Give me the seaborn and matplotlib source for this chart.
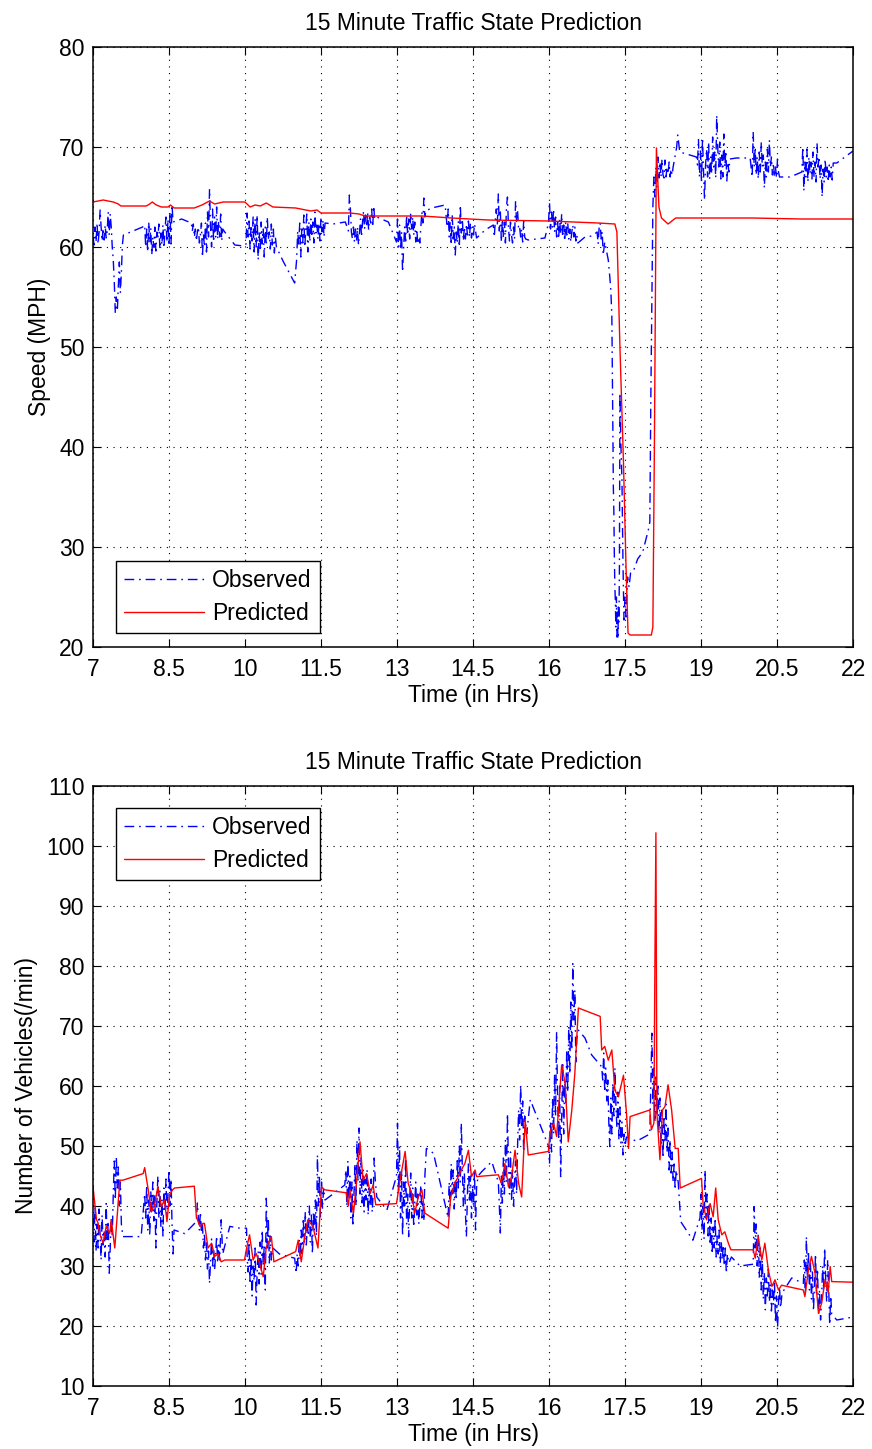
import numpy as np
import pandas as pd
import matplotlib
matplotlib.use("Agg")
import matplotlib.pyplot as plt
import seaborn as sns

# ---------------- data ----------------
obs_speed_t = [7.00,7.02,7.04,7.06,7.08,7.10,7.12,7.14,7.16,7.18,7.20,7.22,7.24,7.26,7.28,7.30,7.32,7.34,7.36,7.38,
 7.40,7.42,7.44,7.46,7.48,7.50,7.52,7.54,7.56,7.58,7.60,7.79,7.98,8.02,8.04,8.06,8.08,8.10,8.12,8.14,
 8.16,8.18,8.20,8.22,8.24,8.26,8.28,8.30,8.32,8.34,8.36,8.38,8.40,8.42,8.44,8.46,8.48,8.50,8.52,8.54,
 8.56,8.58,8.75,8.94,8.96,8.98,9.00,9.02,9.04,9.06,9.08,9.10,9.12,9.14,9.16,9.18,9.20,9.22,9.24,9.26,
 9.28,9.30,9.32,9.34,9.36,9.38,9.40,9.42,9.44,9.46,9.48,9.50,9.52,9.54,9.56,9.60,9.80,9.98,10.02,10.04,
 10.06,10.08,10.10,10.12,10.14,10.16,10.18,10.20,10.22,10.24,10.26,10.28,10.30,10.32,10.34,10.36,10.38,10.40,10.42,10.44,
 10.46,10.48,10.50,10.52,10.54,10.56,10.58,10.60,10.62,10.75,10.98,11.02,11.04,11.06,11.08,11.10,11.12,11.14,11.16,11.18,
 11.20,11.22,11.24,11.26,11.28,11.30,11.32,11.34,11.36,11.38,11.40,11.42,11.44,11.46,11.48,11.50,11.52,11.54,11.56,11.58,
 11.74,11.98,12.04,12.06,12.08,12.10,12.12,12.14,12.16,12.18,12.20,12.22,12.24,12.26,12.28,12.30,12.32,12.34,12.36,12.38,
 12.40,12.42,12.44,12.46,12.48,12.50,12.52,12.54,12.56,12.60,12.83,12.99,13.01,13.03,13.05,13.07,13.09,13.11,13.13,13.15,
 13.17,13.19,13.21,13.23,13.25,13.27,13.29,13.31,13.33,13.35,13.37,13.39,13.41,13.43,13.45,13.47,13.49,13.51,13.53,13.55,
 13.57,13.68,13.95,13.99,14.01,14.03,14.05,14.07,14.09,14.11,14.13,14.15,14.17,14.19,14.21,14.23,14.25,14.27,14.29,14.31,
 14.33,14.35,14.37,14.39,14.41,14.43,14.45,14.47,14.49,14.51,14.53,14.57,14.74,14.90,14.92,14.94,14.96,14.98,15.00,15.02,
 15.04,15.06,15.08,15.10,15.12,15.14,15.16,15.18,15.20,15.22,15.24,15.26,15.28,15.30,15.32,15.34,15.36,15.38,15.40,15.42,
 15.44,15.46,15.48,15.50,15.52,15.54,15.59,15.92,15.99,16.01,16.03,16.05,16.07,16.09,16.11,16.13,16.15,16.17,16.19,16.21,
 16.23,16.25,16.27,16.29,16.31,16.33,16.35,16.37,16.39,16.41,16.43,16.45,16.47,16.49,16.51,16.53,16.55,16.57,16.71,16.85,
 16.95,16.97,16.99,17.01,17.03,17.05,17.07,17.10,17.14,17.17,17.20,17.22,17.24,17.25,17.26,17.27,17.28,17.29,17.30,17.31,
 17.32,17.33,17.34,17.35,17.36,17.37,17.38,17.39,17.40,17.42,17.44,17.46,17.48,17.50,17.52,17.55,17.58,17.61,17.66,17.75,
 17.85,17.96,17.99,18.01,18.03,18.05,18.07,18.09,18.11,18.13,18.15,18.17,18.19,18.21,18.23,18.25,18.27,18.29,18.31,18.33,
 18.35,18.37,18.39,18.41,18.43,18.45,18.52,18.54,18.56,18.58,18.91,18.93,18.95,18.97,18.99,19.01,19.03,19.05,19.07,19.09,
 19.11,19.13,19.15,19.17,19.19,19.21,19.23,19.25,19.27,19.29,19.31,19.33,19.35,19.37,19.39,19.41,19.43,19.45,19.47,19.49,
 19.51,19.53,19.55,19.57,19.70,19.97,20.01,20.03,20.05,20.07,20.09,20.11,20.13,20.15,20.17,20.19,20.21,20.23,20.25,20.27,
 20.29,20.31,20.33,20.35,20.37,20.39,20.41,20.43,20.45,20.47,20.49,20.51,20.53,20.55,20.76,20.99,21.01,21.03,21.05,21.07,
 21.09,21.11,21.13,21.15,21.17,21.19,21.21,21.23,21.25,21.27,21.29,21.31,21.33,21.35,21.37,21.39,21.41,21.43,21.45,21.47,
 21.49,21.51,21.53,21.55,21.57,21.59,21.61,21.68,21.84,22.00]
obs_speed_v = [61.0,60.2,62.0,60.5,62.4,60.3,61.5,63.7,62.0,60.6,61.9,60.7,62.2,60.9,61.6,63.5,61.2,63.3,62.0,60.0,
 58.7,56.5,53.4,55.0,53.6,56.0,58.5,55.4,57.5,60.2,61.2,61.6,62.0,62.2,60.0,61.8,59.5,62.5,60.4,61.9,
 59.2,61.0,60.0,62.0,59.6,61.5,60.8,62.3,59.8,61.4,60.2,62.2,59.9,61.7,63.0,60.5,62.8,60.1,63.5,60.3,
 64.2,62.5,62.8,62.4,61.6,62.3,61.0,61.8,60.6,61.5,62.0,60.4,61.2,62.4,59.0,61.3,60.0,62.4,59.5,63.5,
 61.0,65.8,62.0,60.0,63.8,60.5,63.0,61.0,64.0,60.8,62.6,61.0,63.3,60.6,61.8,61.5,60.2,60.1,60.3,63.4,
 61.0,62.6,59.8,62.2,60.6,63.0,59.5,62.8,60.0,63.2,58.7,61.5,59.6,62.5,60.3,61.8,59.0,62.0,60.2,63.0,
 60.8,61.5,59.8,62.3,60.2,61.8,59.4,61.0,60.0,58.6,56.4,58.8,61.6,60.3,62.4,59.0,61.8,60.4,63.2,60.0,
 61.8,63.3,59.5,62.5,60.5,62.8,61.0,62.5,60.4,63.5,61.4,62.2,60.8,62.4,60.6,63.0,61.5,62.7,61.0,62.4,
 62.3,62.5,61.6,65.2,63.8,61.5,60.8,62.0,60.5,61.8,60.6,62.0,60.2,61.5,62.8,61.0,62.5,63.6,61.8,63.2,
 62.0,63.5,61.7,63.0,62.4,63.8,62.0,64.1,62.8,63.0,62.5,60.5,62.8,60.0,62.2,59.8,61.5,57.5,59.8,62.0,
 60.6,63.2,61.2,62.8,60.8,63.4,61.8,63.0,61.2,62.5,60.5,61.8,60.3,61.0,60.4,62.0,63.5,62.4,64.9,63.0,
 63.6,63.9,64.2,62.0,63.8,61.0,62.5,60.2,63.2,60.8,62.0,59.2,61.5,60.4,62.6,60.0,64.2,61.4,62.8,60.6,
 62.0,60.8,62.3,61.2,62.6,61.0,62.4,60.9,62.0,61.2,62.3,60.9,61.7,62.2,61.0,62.6,63.8,62.2,65.3,61.6,
 63.5,60.5,62.8,61.0,62.5,60.4,64.0,65.0,62.0,60.6,62.5,61.2,60.4,62.0,60.8,64.6,62.5,63.6,61.8,62.0,
 61.0,61.8,60.5,62.6,61.0,60.8,60.7,60.9,62.4,64.5,61.8,63.5,62.0,63.8,61.5,63.0,61.0,62.5,60.8,62.8,
 61.3,63.3,61.0,62.2,60.6,62.5,61.2,62.4,60.8,61.8,60.5,61.5,62.2,61.0,62.0,60.6,61.2,60.4,61.0,61.1,
 61.5,60.3,62.0,62.4,60.8,61.5,59.2,60.5,59.5,58.7,57.0,55.7,53.2,48.0,42.0,36.0,33.5,29.0,26.0,24.5,
 22.0,25.0,21.0,23.5,20.8,24.0,22.5,28.0,45.4,40.0,36.7,28.4,22.7,25.0,23.0,27.0,26.0,27.4,27.5,28.8,
 29.5,31.7,32.5,45.0,55.0,64.0,67.0,65.0,68.0,66.0,69.0,66.9,68.5,67.0,68.8,67.2,66.9,68.7,67.0,68.0,
 67.3,68.5,67.0,67.8,67.2,68.0,70.0,71.2,70.4,69.5,69.0,68.2,70.8,67.0,69.6,66.5,70.9,67.5,64.7,68.2,
 69.8,67.0,70.5,66.8,69.0,67.3,71.0,68.0,69.5,66.9,73.2,70.0,68.0,70.5,66.8,69.2,67.0,71.3,68.0,69.6,
 66.6,68.5,67.5,68.8,68.9,68.9,67.0,71.5,68.0,70.0,67.2,69.0,66.8,69.5,67.5,70.5,68.0,69.2,65.9,68.5,
 67.0,69.8,67.5,70.7,68.0,69.0,67.2,68.4,67.0,68.0,66.9,68.8,67.5,67.0,67.0,67.5,70.0,65.6,68.5,67.0,
 69.8,66.5,69.0,67.3,68.5,66.8,69.5,67.0,68.5,66.5,70.4,68.0,69.0,66.8,68.2,65.0,67.8,66.5,68.8,67.0,
 68.0,66.5,68.2,67.0,68.0,66.7,68.4,68.4,69.0,69.6]

pred_speed_t = [7.00,7.10,7.20,7.30,7.40,7.50,7.55,8.05,8.12,8.17,8.25,8.35,8.48,8.53,8.60,9.00,9.15,9.30,9.40,9.57,
 10.00,10.10,10.20,10.30,10.42,10.55,11.00,11.30,11.42,11.50,12.07,12.25,12.37,13.50,14.08,14.80,16.00,16.97,17.30,17.34,
 17.40,17.47,17.52,17.56,17.60,18.02,18.05,18.08,18.12,18.17,18.22,18.35,18.50,19.00,20.00,21.00,22.00]
pred_speed_v = [64.5,64.6,64.7,64.6,64.5,64.3,64.1,64.1,64.3,64.5,64.2,64.0,64.0,64.2,63.9,63.9,64.2,64.6,64.3,64.5,
 64.5,64.0,64.2,64.1,64.4,64.0,63.9,63.6,63.7,63.4,63.4,63.3,63.1,63.1,62.9,62.7,62.6,62.4,62.3,61.5,
 50.0,38.4,28.0,21.4,21.2,21.2,22.0,40.0,69.9,64.0,62.9,62.3,62.9,62.9,62.9,62.8,62.8]

obs_flow_t = [7.00,7.02,7.04,7.06,7.08,7.10,7.12,7.14,7.16,7.18,7.20,7.22,7.24,7.26,7.28,7.30,7.32,7.34,7.36,7.38,
 7.40,7.42,7.44,7.46,7.48,7.50,7.52,7.54,7.56,7.59,7.76,7.95,8.02,8.04,8.06,8.08,8.10,8.12,8.14,8.16,
 8.18,8.20,8.22,8.24,8.26,8.28,8.30,8.32,8.34,8.36,8.38,8.40,8.42,8.44,8.46,8.48,8.50,8.52,8.54,8.56,
 8.58,8.60,8.81,9.04,9.06,9.08,9.10,9.12,9.14,9.16,9.18,9.20,9.22,9.24,9.26,9.28,9.30,9.32,9.34,9.36,
 9.38,9.40,9.42,9.44,9.46,9.48,9.50,9.53,9.56,9.70,9.90,10.03,10.04,10.06,10.08,10.10,10.12,10.14,10.16,10.18,
 10.20,10.22,10.24,10.26,10.28,10.30,10.32,10.34,10.36,10.38,10.40,10.42,10.44,10.46,10.48,10.50,10.52,10.55,10.68,10.98,
 11.01,11.03,11.05,11.07,11.09,11.11,11.13,11.15,11.17,11.19,11.21,11.23,11.25,11.27,11.29,11.31,11.33,11.35,11.37,11.39,
 11.41,11.43,11.45,11.47,11.49,11.51,11.53,11.55,11.58,11.97,11.99,12.01,12.03,12.05,12.07,12.09,12.11,12.13,12.15,12.17,
 12.19,12.21,12.23,12.25,12.27,12.29,12.31,12.33,12.35,12.37,12.39,12.41,12.43,12.45,12.47,12.49,12.51,12.53,12.55,12.57,
 12.60,12.80,12.99,13.01,13.03,13.05,13.07,13.09,13.11,13.13,13.15,13.17,13.19,13.21,13.23,13.25,13.27,13.29,13.31,13.33,
 13.35,13.37,13.39,13.41,13.43,13.45,13.47,13.49,13.51,13.53,13.55,13.58,13.72,14.01,14.03,14.05,14.07,14.09,14.11,14.13,
 14.15,14.17,14.19,14.21,14.23,14.25,14.27,14.29,14.31,14.33,14.35,14.37,14.39,14.41,14.43,14.45,14.47,14.49,14.51,14.53,
 14.55,14.57,14.60,14.67,14.87,15.00,15.02,15.04,15.06,15.08,15.10,15.12,15.14,15.16,15.18,15.20,15.22,15.24,15.26,15.28,
 15.30,15.32,15.34,15.36,15.38,15.40,15.42,15.44,15.46,15.48,15.50,15.52,15.56,15.63,15.99,16.01,16.03,16.05,16.07,16.09,
 16.11,16.13,16.15,16.17,16.19,16.21,16.23,16.25,16.27,16.29,16.31,16.33,16.35,16.37,16.39,16.41,16.43,16.45,16.47,16.49,
 16.51,16.53,16.55,16.58,16.71,16.84,17.04,17.06,17.08,17.10,17.12,17.14,17.16,17.18,17.20,17.22,17.24,17.26,17.28,17.30,
 17.32,17.34,17.36,17.38,17.40,17.42,17.44,17.46,17.48,17.50,17.53,17.73,17.99,18.01,18.03,18.05,18.07,18.09,18.11,18.13,
 18.15,18.17,18.19,18.21,18.23,18.25,18.27,18.29,18.31,18.33,18.35,18.37,18.39,18.41,18.43,18.45,18.47,18.49,18.51,18.55,
 18.60,18.84,18.98,19.00,19.02,19.04,19.06,19.08,19.10,19.12,19.14,19.16,19.18,19.20,19.22,19.24,19.26,19.28,19.30,19.32,
 19.34,19.36,19.38,19.40,19.42,19.44,19.46,19.48,19.50,19.52,19.55,19.60,19.77,20.03,20.05,20.07,20.09,20.11,20.13,20.15,
 20.17,20.19,20.21,20.23,20.25,20.27,20.29,20.31,20.33,20.35,20.37,20.39,20.41,20.43,20.45,20.47,20.49,20.51,20.53,20.55,
 20.57,20.60,20.79,21.02,21.04,21.06,21.08,21.10,21.12,21.14,21.16,21.18,21.20,21.22,21.24,21.26,21.28,21.30,21.32,21.34,
 21.36,21.38,21.40,21.42,21.44,21.46,21.48,21.50,21.52,21.54,21.56,21.58,21.68,21.94]
obs_flow_v = [38.0,34.0,40.0,32.5,37.0,33.0,39.5,35.0,31.0,38.5,33.5,36.0,31.5,40.4,34.0,37.5,28.8,33.0,38.0,35.0,
 42.0,47.5,41.0,48.2,43.0,46.5,40.0,44.0,37.0,34.9,34.9,34.9,42.0,38.0,43.5,36.0,41.0,35.0,42.5,39.0,
 44.0,37.5,42.0,33.0,40.5,45.0,38.0,42.5,36.5,41.0,35.0,43.0,39.0,44.5,38.0,42.0,46.0,40.0,44.5,37.0,
 32.0,36.0,35.4,37.4,40.5,38.0,36.0,39.0,35.5,37.0,33.0,35.5,31.0,34.0,29.5,32.5,27.1,31.0,34.5,30.0,
 33.0,29.3,32.0,35.0,30.5,33.5,31.0,37.7,32.0,36.6,36.3,36.3,32.0,29.0,34.0,27.0,31.5,25.0,30.0,27.5,
 33.0,23.5,29.0,32.5,27.0,34.0,28.5,36.0,30.0,33.5,26.0,41.3,33.0,38.0,30.5,35.0,31.0,33.0,32.0,31.3,
 28.8,32.0,30.0,34.5,31.0,36.0,32.0,38.0,34.0,39.0,33.5,37.0,35.0,40.0,34.0,38.5,32.0,39.0,36.0,41.0,
 35.0,48.5,40.0,45.0,38.0,44.0,39.5,43.0,41.0,43.5,46.0,40.0,47.5,41.0,45.0,38.0,44.0,36.6,42.0,47.0,
 40.0,51.0,44.0,53.0,42.0,48.0,40.5,46.0,39.0,44.5,41.0,46.0,38.5,43.0,40.0,44.5,39.0,42.0,48.0,44.5,
 41.5,39.3,45.0,53.8,42.0,50.0,38.0,46.0,35.0,44.0,40.0,48.0,37.0,42.0,34.9,41.0,45.5,38.0,43.0,36.5,
 40.5,44.0,38.5,42.0,37.0,40.0,43.5,38.0,41.0,37.5,45.0,49.6,48.8,38.0,44.0,40.0,47.0,42.0,46.0,39.5,
 44.5,41.0,48.0,43.0,50.0,44.0,53.8,46.0,40.0,45.5,39.0,34.9,42.0,47.0,41.0,45.0,38.0,43.5,40.0,46.0,
 36.0,43.0,45.0,45.7,47.4,44.0,40.0,35.5,45.0,40.5,48.0,42.0,51.0,44.0,55.4,47.0,42.0,49.0,41.0,46.0,
 40.0,44.0,47.5,42.0,50.0,56.0,51.0,60.2,53.0,57.5,49.0,55.0,52.0,57.7,50.0,47.0,54.0,49.0,58.0,52.0,
 62.0,55.0,69.0,58.0,51.0,60.0,44.9,55.0,64.0,52.0,61.0,57.0,66.0,59.0,70.0,62.0,74.0,66.0,80.4,71.0,
 76.0,64.0,68.0,69.3,68.0,65.2,63.2,61.0,65.5,59.0,63.0,57.5,61.0,54.0,49.9,58.0,52.0,60.5,55.0,63.0,
 57.0,53.0,59.0,51.0,56.5,50.5,54.0,48.5,52.0,50.0,51.5,50.8,52.0,60.0,68.8,57.0,63.0,54.0,61.5,55.0,
 60.0,52.0,58.0,50.0,56.0,48.0,55.0,50.5,57.0,49.0,53.0,46.0,51.0,45.5,49.0,44.0,47.0,42.7,46.0,44.0,
 37.4,34.3,38.0,42.0,36.0,40.0,34.5,46.0,38.0,42.0,35.0,40.5,33.5,38.0,32.0,36.5,33.0,38.0,31.5,35.0,
 32.0,36.0,30.5,34.0,31.0,33.5,30.0,33.0,28.8,32.0,30.5,31.5,30.0,30.3,39.9,33.0,37.0,30.0,35.5,28.0,
 33.0,26.0,31.0,24.5,29.0,22.7,28.0,25.0,29.5,24.0,27.0,22.5,26.0,23.5,27.5,20.5,25.0,19.3,24.0,26.5,
 23.0,25.5,28.0,27.1,31.0,25.0,34.9,28.0,32.5,26.0,30.5,24.5,29.0,22.5,27.0,32.0,25.5,29.5,22.0,26.0,
 21.0,24.5,30.0,26.0,33.0,28.0,24.0,31.0,26.5,20.2,25.0,22.0,21.0,21.4]

pred_flow_t = [7.00,7.07,7.10,7.13,7.20,7.26,7.33,7.36,7.43,7.53,7.59,7.99,8.02,8.09,8.15,8.22,8.28,8.35,8.41,8.46,
 8.51,8.57,8.61,9.00,9.04,9.11,9.17,9.20,9.27,9.34,9.40,9.47,9.53,9.60,9.99,10.03,10.09,10.16,10.22,10.29,
 10.36,10.42,10.52,10.57,11.00,11.05,11.11,11.18,11.24,11.34,11.44,11.51,11.57,12.00,12.04,12.07,12.14,12.20,12.27,12.33,
 12.40,12.47,12.53,12.58,12.99,13.06,13.16,13.22,13.29,13.35,13.42,13.49,13.55,14.01,14.06,14.14,14.21,14.27,14.34,14.41,
 14.47,14.54,14.57,15.00,15.06,15.13,15.20,15.26,15.33,15.40,15.46,15.53,15.59,15.99,16.02,16.09,16.15,16.25,16.32,16.38,
 16.45,16.51,16.58,17.01,17.04,17.10,17.17,17.24,17.30,17.37,17.47,17.53,17.57,17.60,17.99,18.02,18.07,18.09,18.11,18.13,
 18.19,18.24,18.29,18.35,18.42,18.49,18.55,18.59,19.01,19.04,19.11,19.18,19.24,19.29,19.34,19.41,19.47,19.54,19.59,20.03,
 20.07,20.13,20.20,20.26,20.33,20.40,20.46,20.53,20.59,21.02,21.05,21.12,21.18,21.25,21.32,21.38,21.45,21.51,21.55,21.58,
 22.00]
pred_flow_v = [43.2,37.7,37.2,35.4,33.8,36.6,35.4,37.7,33.0,44.3,44.3,45.4,46.4,42.7,39.0,40.4,43.2,39.9,41.0,37.4,
 41.8,42.7,43.0,43.3,38.2,36.6,37.1,37.1,33.0,33.8,31.6,32.0,30.7,31.0,31.0,32.9,35.2,31.0,32.1,30.4,
 28.2,33.2,34.9,30.7,32.4,34.3,30.7,34.9,37.7,36.6,33.0,43.2,42.7,42.2,40.0,42.7,38.8,43.8,50.7,44.3,
 45.4,42.1,43.5,40.2,40.4,44.3,49.1,43.8,42.1,38.8,41.5,42.7,38.8,36.3,41.5,43.8,44.9,46.0,47.1,49.3,
 44.9,46.0,44.9,45.2,43.8,47.1,43.2,44.9,49.3,43.8,41.5,54.3,48.5,49.1,52.4,53.8,51.6,63.5,60.4,50.7,
 56.0,62.1,73.0,71.6,66.0,66.6,64.3,66.0,59.3,58.2,61.8,55.4,49.6,54.9,56.0,52.7,53.8,80.0,102.2,55.4,
 47.7,56.0,56.6,60.2,56.0,49.6,49.6,43.0,44.6,40.4,37.7,40.4,38.2,43.0,37.7,35.2,35.7,33.8,32.7,32.7,
 31.3,34.9,31.0,33.8,29.3,26.6,27.7,26.0,26.8,26.0,24.9,29.3,31.6,28.8,22.1,23.8,27.7,25.5,29.9,27.4,
 27.3]

x_ticks = [7, 8.5, 10, 11.5, 13, 14.5, 16, 17.5, 19, 20.5, 22]
x_ticklabels = ["7", "8.5", "10", "11.5", "13", "14.5", "16", "17.5", "19", "20.5", "22"]
speed_ticks = [20, 30, 40, 50, 60, 70, 80]
flow_ticks = [10, 20, 30, 40, 50, 60, 70, 80, 90, 100, 110]

title = "15 Minute Traffic State Prediction"
series_names = ["Observed", "Predicted"]

# ---------------- style ----------------
FS = 16.5
sns.set_style("ticks")
plt.rcParams["font.family"] = ["Liberation Sans", "DejaVu Sans"]
plt.rcParams["font.size"] = FS
for k in ["text.color", "axes.labelcolor", "xtick.color", "ytick.color", "axes.edgecolor"]:
    plt.rcParams[k] = "black"

fig = plt.figure(figsize=(8.72, 14.49), dpi=100)
W, H = 872, 1449
ax1 = fig.add_axes([93 / W, (H - 647) / H, 760 / W, 600 / H])
ax2 = fig.add_axes([93 / W, (H - 1386) / H, 760 / W, 600 / H])

obs_style = dict(color=(0, 0, 1), linewidth=1.0, linestyle=(0, (7, 3.5, 1.2, 3.5)))
pred_style = dict(color=(1, 0, 0), linewidth=1.0, linestyle="-")

df_os = pd.DataFrame({"t": obs_speed_t, "v": obs_speed_v})
df_ps = pd.DataFrame({"t": pred_speed_t, "v": pred_speed_v})
df_of = pd.DataFrame({"t": obs_flow_t, "v": obs_flow_v})
df_pf = pd.DataFrame({"t": pred_flow_t, "v": pred_flow_v})

sns.lineplot(data=df_os, x="t", y="v", ax=ax1, estimator=None, sort=False, label=series_names[0], **obs_style)
sns.lineplot(data=df_ps, x="t", y="v", ax=ax1, estimator=None, sort=False, label=series_names[1], **pred_style)
sns.lineplot(data=df_of, x="t", y="v", ax=ax2, estimator=None, sort=False, label=series_names[0], **obs_style)
sns.lineplot(data=df_pf, x="t", y="v", ax=ax2, estimator=None, sort=False, label=series_names[1], **pred_style)

for ax, yt, ylab, loc, anchor in [(ax1, speed_ticks, "Speed (MPH)", "lower left", (23 / 760, 14 / 600)),
                                  (ax2, flow_ticks, "Number of Vehicles(/min)", "upper left", (23 / 760, 1 - 22 / 600))]:
    ax.set_xlim(7, 22)
    ax.set_ylim(yt[0], yt[-1])
    ax.set_xticks(x_ticks)
    ax.set_xticklabels(x_ticklabels)
    ax.set_yticks(yt)
    ax.grid(True, color="black", linestyle=(0, (1, 5)), linewidth=0.8)
    ax.tick_params(direction="in", top=True, right=True, length=6, width=0.8,
                   labelsize=FS, colors="black")
    ax.tick_params(axis="x", pad=8)
    ax.tick_params(axis="y", pad=6)
    for s in ax.spines.values():
        s.set_linewidth(1.1)
        s.set_color("black")
    ax.set_xlabel("Time (in Hrs)", fontsize=FS, labelpad=2)
    ax.set_ylabel(ylab, fontsize=FS, labelpad=6)
    ax.set_title(title, fontsize=FS, pad=12)
    leg = ax.legend(loc=loc, bbox_to_anchor=anchor, fontsize=FS, handlelength=3.5, frameon=True,
                    fancybox=False, edgecolor="black", borderaxespad=0.0, borderpad=0.35,
                    labelspacing=0.45, handletextpad=0.35)
    leg.get_frame().set_linewidth(1.0)
    leg.get_frame().set_alpha(1)
    for txt in leg.get_texts():
        txt.set_color("black")

fig.savefig("out.png", dpi=100, facecolor="white")
